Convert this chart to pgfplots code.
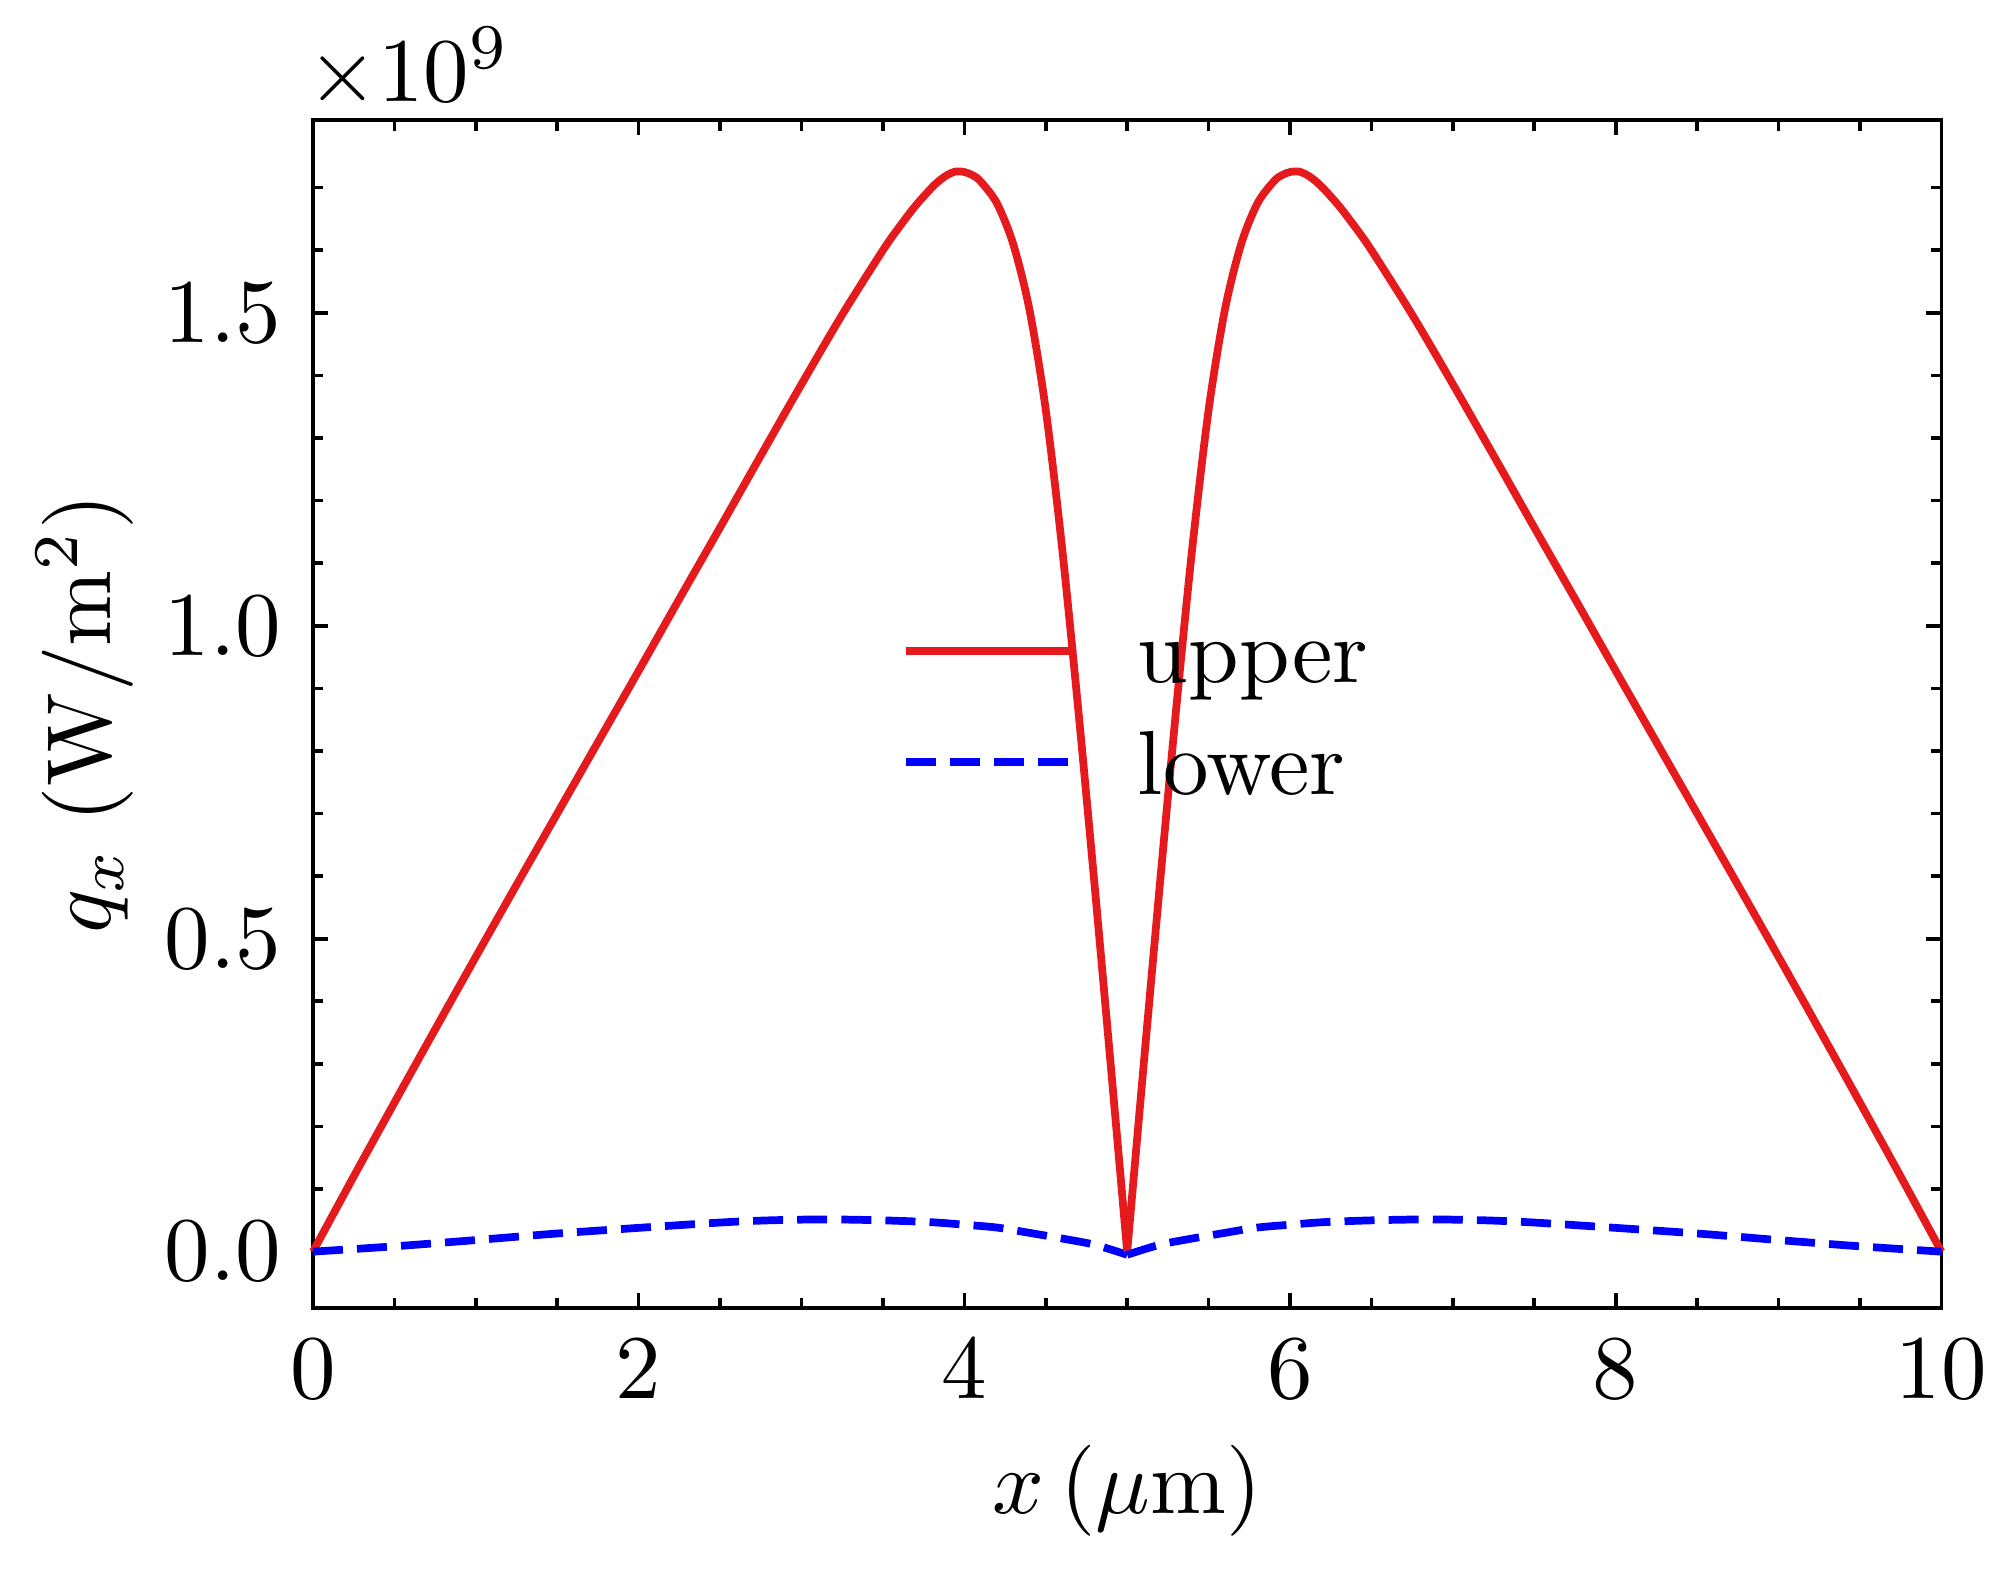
\documentclass[border=0pt]{standalone}
\usepackage{pgfplots}
\pgfplotsset{compat=1.18}
\definecolor{cred}{RGB}{228,26,28}
\definecolor{cblue}{RGB}{0,0,255}
\pgfplotstableread{
x y
0 0
0.25 0.120
0.5 0.238
0.75 0.355
1.0 0.471
1.25 0.586
1.5 0.700
1.75 0.814
2.0 0.928
2.25 1.043
2.5 1.157
2.75 1.272
3.0 1.386
3.25 1.497
3.5 1.600
3.6 1.637
3.7 1.671
3.8 1.700
3.85 1.712
3.9 1.721
3.95 1.726
4.0 1.725
4.05 1.720
4.1 1.710
4.2 1.675
4.3 1.610
4.4 1.505
4.5 1.345
4.6 1.125
4.7 0.865
4.8 0.585
4.9 0.295
5.0 0.0
}\upperL
\pgfplotstableread{
x y
5.0 0.0
5.1 0.295
5.2 0.585
5.3 0.865
5.4 1.125
5.5 1.345
5.6 1.505
5.7 1.610
5.8 1.675
5.9 1.710
5.95 1.720
6.0 1.725
6.05 1.726
6.1 1.721
6.15 1.712
6.2 1.700
6.3 1.671
6.4 1.637
6.5 1.600
6.75 1.497
7.0 1.386
7.25 1.272
7.5 1.157
7.75 1.043
8.0 0.928
8.25 0.814
8.5 0.700
8.75 0.586
9.0 0.471
9.25 0.355
9.5 0.238
9.75 0.120
10 0
}\upperR
\pgfplotstableread{
x y
0 0
0.5 0.0085
1.0 0.0185
1.5 0.029
2.0 0.038
2.5 0.0465
2.8 0.050
3.15 0.0515
3.5 0.050
3.8 0.047
4.0 0.043
4.2 0.0385
4.4 0.030
4.6 0.021
4.8 0.011
5.0 -0.005
}\lowerL
\pgfplotstableread{
x y
5.0 -0.005
5.2 0.011
5.4 0.021
5.6 0.030
5.8 0.0385
6.0 0.043
6.2 0.047
6.5 0.050
6.85 0.0515
7.2 0.050
7.5 0.0465
8.0 0.038
8.5 0.029
9.0 0.0185
9.5 0.0085
10 0
}\lowerR
\begin{document}
\begin{tikzpicture}
\useasboundingbox (-34.4pt,-30pt) rectangle (187.2pt,143.8pt);
\begin{axis}[
  scale only axis,
  clip=false,
  width=179pt, height=130.6pt,
  xmin=0, xmax=10, ymin=-0.0904, ymax=1.808,
  axis line style={line width=0.4pt},
  every tick/.style={black, line width=0.4pt},
  tick align=inside,
  xtick pos=both, ytick pos=both,
  xtick={0,2,...,10},
  ytick={0,0.5,1.0,1.5},
  minor xtick={0.5,1,1.5,2.5,3,3.5,4.5,5,5.5,6.5,7,7.5,8.5,9,9.5},
  minor ytick={0.1,0.2,0.3,0.4,0.6,0.7,0.8,0.9,1.1,1.2,1.3,1.4,1.6,1.7},
  major tick length=1.65pt,
  minor tick length=1.15pt,
  yticklabel style={/pgf/number format/fixed, /pgf/number format/fixed zerofill, /pgf/number format/precision=1},
  xticklabel style={/pgf/number format/fixed},
  xlabel={$x\,(\mu\mathrm{m})$},
  ylabel={$q_x\;(\mathrm{W/m^2})$},
  xlabel style={at={(rel axis cs:0.5,0)}, anchor=center, yshift=-20.1pt},
  ylabel style={at={(rel axis cs:0,0.5)}, anchor=center, yshift=25.1pt},
  legend style={draw=none, fill=none, at={(axis cs:3.605,0.851)}, anchor=west, inner sep=0pt,
    nodes={text height=6.65pt, text depth=2.38pt, inner sep=1.6pt}},
  legend cell align=left,
  legend image code/.code={\draw[#1] (0pt,0pt) -- (18.5pt,0pt);},
  /tikz/every odd column/.append style={column sep=5pt},
  /tikz/every even column/.append style={yshift=-1.4pt},
]
\addplot[cred, line width=0.85pt, smooth, tension=0.5] table[x=x,y=y] {\upperL};
\addlegendentry{upper}
\addplot[cblue, line width=0.85pt, dash pattern=on 3.3pt off 1.55pt, smooth, tension=0.5] table[x=x,y=y] {\lowerL};
\addlegendentry{lower}
\addplot[cred, line width=0.85pt, smooth, tension=0.5, forget plot] table[x=x,y=y] {\upperR};
\addplot[cblue, line width=0.85pt, dash pattern=on 3.3pt off 1.55pt, smooth, tension=0.5, forget plot] table[x=x,y=y] {\lowerR};
\node[anchor=base west, inner sep=0pt] at ([xshift=-0.8pt,yshift=2pt]rel axis cs:0,1) {$\times 10^{9}$};
\end{axis}
\end{tikzpicture}
\end{document}
